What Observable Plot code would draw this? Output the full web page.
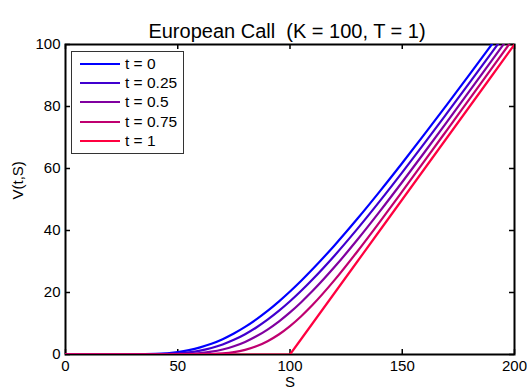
<!DOCTYPE html>
<html><head><meta charset="utf-8">
<script src="https://cdn.jsdelivr.net/npm/d3@7"></script>
<script src="https://cdn.jsdelivr.net/npm/@observablehq/plot@0.6"></script>
<style>
html,body{margin:0;padding:0;background:#fff;}
#wrap{position:relative;width:527px;height:391px;font-family:"Liberation Sans",Arial,sans-serif;}
#legend{position:absolute;left:71px;top:51px;width:111px;height:101px;border:1px solid #333;background:#fff;}
.item{position:absolute;left:0;height:19px;display:flex;align-items:center;font-size:15.5px;color:#000;white-space:nowrap;}
.item .sw{width:40px;height:2px;margin-left:8px;margin-right:5px;}
</style></head>
<body><div id="wrap"></div>
<script>
// Underlying prices S
const S = [0,10,20,30,40,50,55,60,65,70,75,80,85,90,95,100,105,110,120,130,140,150,160,170,180,190,200];
// Option values V(t,S)
const V_t0    = [0,0,0,0.02,0.18,0.81,1.43,2.31,3.47,4.95,6.77,8.90,11.34,14.06,17.07,20.32,23.79,27.48,35.35,43.77,52.63,61.78,71.16,80.71,90.38,100.17,109.99];
const V_t025  = [0,0,0,0.003,0.05,0.35,0.70,1.27,2.11,3.25,4.73,6.55,8.72,11.23,14.05,17.17,20.55,24.19,32.04,40.52,49.47,58.76,68.25,77.93,87.69,97.55,107.45];
const V_t05   = [0,0,0,0,0.005,0.08,0.20,0.46,0.91,1.63,2.66,4.06,5.86,8.05,10.63,13.58,16.87,20.45,28.36,37.00,46.16,55.64,65.32,75.14,85.03,94.96,104.93];
const V_t075  = [0,0,0,0,0,0.002,0.009,0.04,0.13,0.34,0.75,1.50,2.64,4.30,6.46,9.16,12.35,15.95,24.14,33.24,42.80,52.61,62.52,72.49,82.48,92.47,102.47];
const V_t1    = [0,0,0,0,0,0,0,0,0,0,0,0,0,0,0,0,5,10,20,30,40,50,60,70,80,90,100];

const seriesValues = [V_t0, V_t025, V_t05, V_t075, V_t1];
const seriesLabels = ["t = 0","t = 0.25","t = 0.5","t = 0.75","t = 1"];
const seriesColors = ["#0000ff","#4000cf","#8000a0","#bf0070","#ff0040"];
const seriesCurves = ["monotone-x","monotone-x","monotone-x","monotone-x","linear"];

const xTicks = [0,50,100,150,200];
const yTicks = [0,20,40,60,80,100];
const title = "European Call  (K = 100, T = 1)";
const xLabel = "S";
const yLabel = "V(t,S)";

const W = 527, H = 391;
const mL = 65, mR = 13, mT = 44, mB = 37;
const fw = W - mL - mR, fh = H - mT - mB, tk = 5;

const lineMarks = seriesValues.map((vals, k) =>
  Plot.line(S.map((s, i) => ({S: s, V: vals[i]})), {
    x: "S", y: "V", stroke: seriesColors[k], strokeWidth: 2.2, curve: seriesCurves[k], clip: true
  })
);

const chart = Plot.plot({
  width: W, height: H,
  marginLeft: mL, marginRight: mR, marginTop: mT, marginBottom: mB,
  style: {fontFamily: '"Liberation Sans", Arial, sans-serif', fontSize: "15px", background: "#fff", color: "#000"},
  x: {domain: [0, 200]},
  y: {domain: [0, 100]},
  marks: [
    Plot.axisX({ticks: xTicks, tickSize: 0, tickPadding: 6, label: null, tickFormat: d => String(d)}),
    Plot.axisY({ticks: yTicks, tickSize: 0, tickPadding: 5, label: null, tickFormat: d => String(d)}),
    Plot.tickX(xTicks, {x: d => d, insetTop: fh - tk, stroke: "#000", strokeWidth: 1.5}),
    Plot.tickX(xTicks, {x: d => d, insetBottom: fh - tk, stroke: "#000", strokeWidth: 1.5}),
    Plot.tickY(yTicks, {y: d => d, insetRight: fw - tk, stroke: "#000", strokeWidth: 1.5}),
    Plot.tickY(yTicks, {y: d => d, insetLeft: fw - tk, stroke: "#000", strokeWidth: 1.5}),
    Plot.frame({stroke: "#000", strokeWidth: 2}),
    ...lineMarks,
    Plot.text([title], {frameAnchor: "top", dy: -21, dx: -3, fontSize: 20, fill: "#000"}),
    Plot.text([xLabel], {frameAnchor: "bottom", lineAnchor: "top", dy: 22, fontSize: 15, fill: "#000"}),
    Plot.text([yLabel], {frameAnchor: "left", dx: -47, rotate: -90, fontSize: 15, fill: "#000"})
  ]
});

const wrap = document.getElementById("wrap");
wrap.appendChild(chart);

const legend = document.createElement("div");
legend.id = "legend";
seriesLabels.forEach((lab, k) => {
  const it = document.createElement("div");
  it.className = "item";
  it.style.top = (2 + k * 19.4) + "px";
  const sw = document.createElement("span");
  sw.className = "sw";
  sw.style.background = seriesColors[k];
  const tx = document.createElement("span");
  tx.textContent = lab;
  it.appendChild(sw); it.appendChild(tx);
  legend.appendChild(it);
});
wrap.appendChild(legend);
</script>
</body></html>
